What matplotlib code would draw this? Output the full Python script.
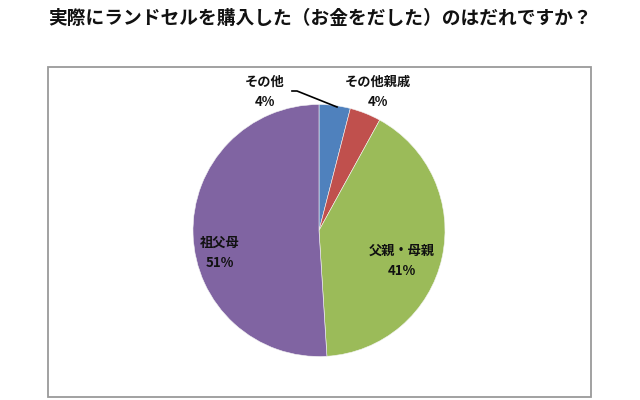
import matplotlib
matplotlib.use("Agg")
import matplotlib.pyplot as plt
from matplotlib.patches import Rectangle

plt.rcParams['font.family'] = ['Noto Sans CJK JP', 'DejaVu Sans']

title = "実際にランドセルを購入した（お金をだした）のはだれですか？"
categories = ["その他", "その他親戚", "父親・母親", "祖父母"]
values = [4, 4, 41, 51]
colors = ["#4F81BD", "#C0504D", "#9BBB59", "#8064A2"]

fig = plt.figure(figsize=(6.4, 4.0), dpi=100)
fig.patch.set_facecolor("white")

# frame box
fig.patches.append(Rectangle((48/640, 1-397/400), (591-48)/640, (397-67)/400,
                             transform=fig.transFigure, fill=False,
                             edgecolor="#9a9a9a", linewidth=1.3))

fig.text(0.5, 1-18/400, title, ha="center", va="center", fontsize=13.5,
         fontweight="bold", color="#111111")

ax = fig.add_axes([0, 0, 1, 1])

cx, cy, r = 319, 400-230.5, 126
wedges, _ = ax.pie(values, colors=colors, startangle=90, counterclock=False,
                   center=(cx, cy), radius=r, frame=True,
                   wedgeprops=dict(linewidth=0.4, edgecolor="#f4f4f4"))
ax.set_xlim(0, 640)
ax.set_ylim(0, 400)
ax.set_aspect("equal")
ax.axis("off")

# label positions (pixel coords, top-left origin)
label_pos = [(265, 92), (378, 92), (402, 261), (220, 253)]
for cat, v, (px, py) in zip(categories, values, label_pos):
    ax.text(px, 400-py, f"{cat}\n{v}%", ha="center", va="center",
            fontsize=9.5, fontweight="bold", color="#111111", linespacing=1.6)

# leader line for その他
ax.plot([292, 297, 337], [400-91, 400-91, 400-107], color="black", linewidth=1.2)

fig.savefig("out.png", dpi=100, facecolor="white")
